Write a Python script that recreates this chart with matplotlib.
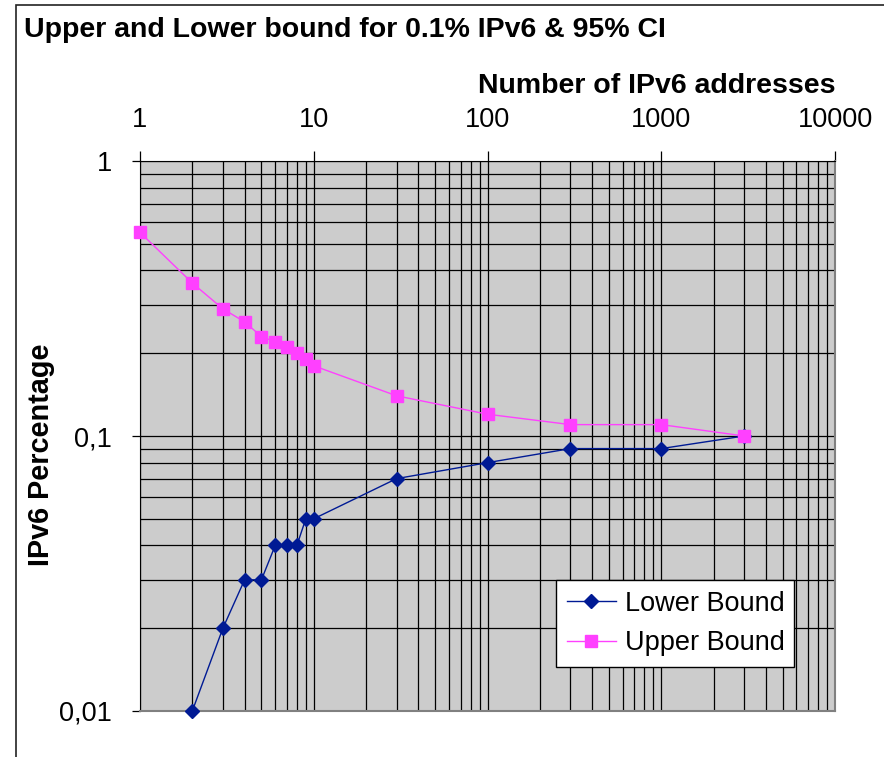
import matplotlib
matplotlib.use('Agg')
import matplotlib.pyplot as plt
from matplotlib.ticker import FixedLocator, FixedFormatter, LogLocator, NullFormatter
from matplotlib.patches import Rectangle

plt.rcParams['font.family'] = ['Liberation Sans', 'DejaVu Sans']

# Data
addresses = [1, 2, 3, 4, 5, 6, 7, 8, 9, 10, 30, 100, 300, 1000, 3000]
upper = [0.55, 0.36, 0.29, 0.26, 0.23, 0.22, 0.21, 0.20, 0.19, 0.18, 0.14, 0.12, 0.11, 0.11, 0.10]
lower_x = [2, 3, 4, 5, 6, 7, 8, 9, 10, 30, 100, 300, 1000, 3000]
lower = [0.01, 0.02, 0.03, 0.03, 0.04, 0.04, 0.04, 0.05, 0.05, 0.07, 0.08, 0.09, 0.09, 0.10]

x_ticks = [1, 10, 100, 1000, 10000]
x_labels = ['1', '10', '100', '1000', '10000']
y_ticks = [0.01, 0.1, 1]
y_labels = ['0,01', '0,1', '1']

W, H = 884, 757
fig = plt.figure(figsize=(W / 100, H / 100), dpi=100)

# outer chart frame (cropped on right and bottom)
fig.patches.append(Rectangle((16 / W, -0.5), 2, 1.5 - 5 / H, transform=fig.transFigure,
                             fill=False, edgecolor='#222222', linewidth=1.2))

ax = fig.add_axes([140 / W, 1 - 711 / H, (835 - 140) / W, (711 - 161) / H])
ax.set_facecolor('#cccccc')
ax.set_xscale('log')
ax.set_yscale('log')
ax.set_xlim(1, 10000)
ax.set_ylim(0.01, 1)

ax.xaxis.set_major_locator(FixedLocator(x_ticks))
ax.xaxis.set_major_formatter(FixedFormatter(x_labels))
ax.yaxis.set_major_locator(FixedLocator(y_ticks))
ax.yaxis.set_major_formatter(FixedFormatter(y_labels))
for axis in (ax.xaxis, ax.yaxis):
    axis.set_minor_locator(LogLocator(base=10, subs=range(2, 10)))
    axis.set_minor_formatter(NullFormatter())

ax.xaxis.tick_top()
ax.xaxis.set_label_position('top')
ax.tick_params(axis='x', which='major', direction='out', length=7, width=0.9,
               labelsize=19.5, pad=13, top=True, bottom=False)
ax.tick_params(axis='y', which='major', direction='out', length=6, width=0.9,
               labelsize=19.5, pad=14)
ax.tick_params(which='minor', length=0)

ax.grid(True, which='both', color='black', linewidth=0.9)
ax.set_axisbelow(True)

for s in ['right', 'bottom']:
    ax.spines[s].set_color('#808080')
    ax.spines[s].set_linewidth(1.5)
ax.spines['left'].set_color('black')
ax.spines['top'].set_color('black')

ax.plot(lower_x, lower, color='#001a94', linewidth=1.0, marker='D', markersize=7,
        label='Lower Bound', clip_on=False, zorder=3)
ax.plot(addresses, upper, color='#ff40ff', linewidth=1.0, marker='s', markersize=8.5,
        label='Upper Bound', clip_on=False, zorder=3)

ax.set_xlabel('Number of IPv6 addresses', fontsize=20.5, fontweight='bold', loc='right', labelpad=10)
fig.text(41 / W, 1 - 455 / H, 'IPv6 Percentage', rotation=90, fontsize=20.8, fontweight='bold',
         ha='center', va='center')
fig.text(24 / W, 1 - 30 / H, 'Upper and Lower bound for 0.1% IPv6 & 95% CI', fontsize=20.5,
         fontweight='bold', ha='left', va='center')

leg = ax.legend(loc='lower left', bbox_to_anchor=((556 - 140) / (835 - 140), (711 - 667) / (711 - 161),
                (794 - 556) / (835 - 140), (667 - 580) / (711 - 161)), mode='expand',
                fontsize=19.5, frameon=True, fancybox=False, framealpha=1, edgecolor='black',
                handlelength=1.8, handletextpad=0.35, borderaxespad=0, borderpad=0.4,
                labelspacing=0.5)
leg.get_frame().set_linewidth(1.0)

fig.savefig('out.png', dpi=100)
